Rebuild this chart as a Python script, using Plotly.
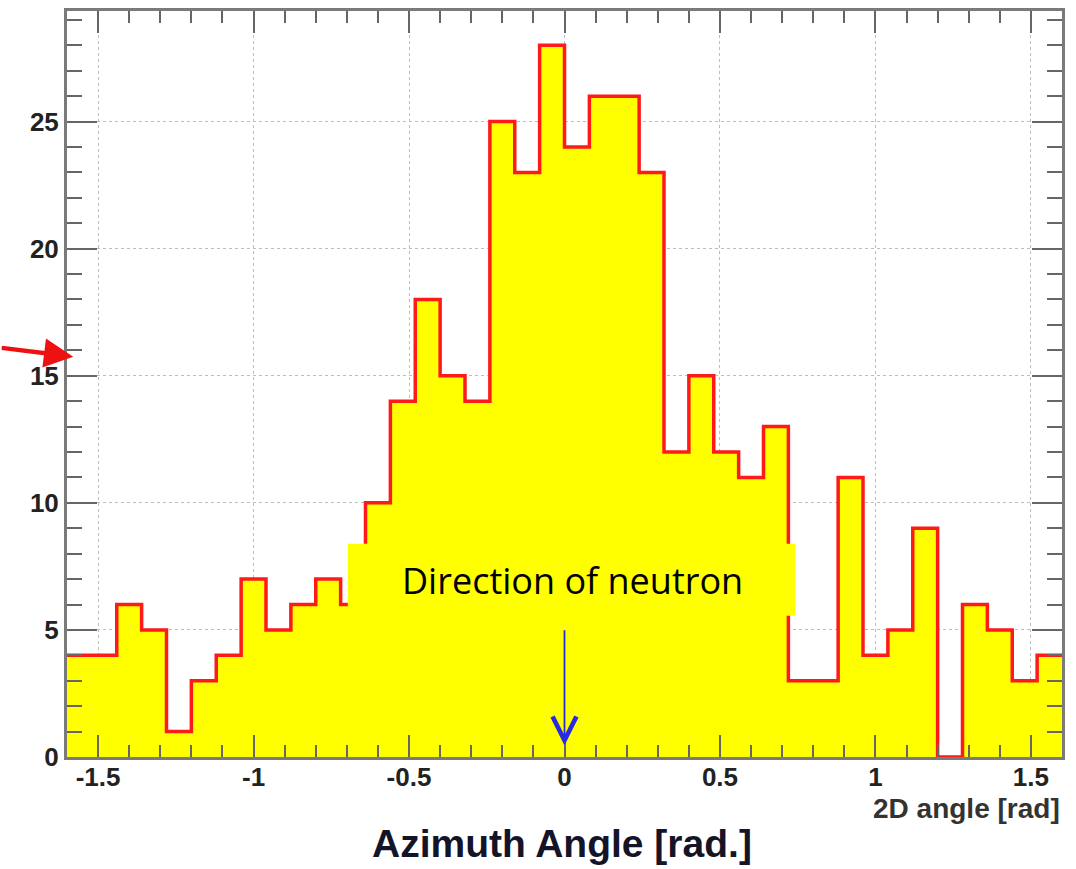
import numpy as np
import plotly.graph_objects as go

# Histogram data: 40 bins from -1.6 to 1.6 rad
x_min, x_max, n_bins = -1.6, 1.6, 40
counts = [4, 4, 6, 5, 1, 3, 4, 7, 5, 6,
          7, 6, 10, 14, 18, 15, 14, 25, 23, 28,
          24, 26, 26, 23, 12, 15, 12, 11, 13, 3,
          3, 11, 4, 5, 9, 0, 6, 5, 3, 4]
x_tickvals = [-1.5, -1, -0.5, 0, 0.5, 1, 1.5]
x_ticktext = ["-1.5", "-1", "-0.5", "0", "0.5", "1", "1.5"]
y_tickvals = [0, 5, 10, 15, 20, 25]
y_ticktext = ["0", "5", "10", "15", "20", "25"]

edges = np.linspace(x_min, x_max, n_bins + 1)
step_x = list(edges)
step_y = list(counts) + [counts[-1]]

fig = go.Figure()
fig.add_trace(go.Scatter(
    x=step_x, y=step_y, mode="lines", line_shape="hv",
    line=dict(color="#ff1a1a", width=3.5),
    fill="tozeroy", fillcolor="#ffff00",
    hoverinfo="skip", showlegend=False))

axis_common = dict(
    showline=True, linecolor="#7a7a7a", linewidth=3, mirror="ticks",
    ticks="inside", tickcolor="#666666", tickwidth=2,
    showgrid=True, gridcolor="#bdbdbd", gridwidth=1, griddash="dot",
    zeroline=False,
    tickfont=dict(family="Liberation Sans", size=26, color="#222222", weight="bold"),
)

fig.update_xaxes(
    range=[x_min, x_max], tickvals=x_tickvals, ticktext=x_ticktext,
    ticklen=22, ticklabelstandoff=-5,
    minor=dict(dtick=0.1, tick0=0, ticklen=12, ticks="inside",
               tickcolor="#666666", tickwidth=2, showgrid=False),
    **axis_common)
fig.update_yaxes(
    range=[0, 29.35], tickvals=y_tickvals, ticktext=y_ticktext,
    ticklen=30,
    minor=dict(dtick=1, tick0=0, ticklen=15, ticks="inside",
               tickcolor="#666666", tickwidth=2, showgrid=False),
    **axis_common)

# Yellow label box
fig.add_shape(type="rect", xref="x", yref="y", x0=-0.697, x1=0.742, y0=5.56, y1=8.39,
              fillcolor="#ffff00", line=dict(width=0), layer="above")

annotations = [
    dict(text="Direction of neutron", xref="x", yref="y", x=0.026, y=6.95,
         showarrow=False, font=dict(family="Open Sans", size=36, color="#000000")),
    # blue arrow pointing at 0
    dict(text="", xref="x", yref="y", x=0, y=0.45, axref="x", ayref="y",
         ax=0, ay=5.05, showarrow=True, arrowhead=5, arrowsize=2.6,
         arrowwidth=1.8, arrowcolor="#2a2ae0"),
    # red arrow on the left
    dict(text="", xref="x", yref="y", x=-1.58, y=15.75, ax=-73, ay=-9,
         showarrow=True, arrowhead=2, arrowsize=1.3, arrowwidth=4.5,
         arrowcolor="#ee1111"),
    dict(text="2D angle [rad]", xref="paper", yref="paper", x=1.0, y=-0.046,
         xanchor="right", yanchor="top", showarrow=False,
         font=dict(family="Liberation Sans", size=28, color="#333333", weight="bold")),
    dict(text="Azimuth Angle [rad.]", xref="paper", yref="paper", x=0.497, y=-0.084,
         xanchor="center", yanchor="top", showarrow=False,
         font=dict(family="Liberation Sans", size=39, color="#141428", weight="bold")),
]
fig.update_layout(
    width=1076, height=869,
    margin=dict(l=67, r=14, t=8, b=112),
    paper_bgcolor="white", plot_bgcolor="white",
    annotations=annotations, showlegend=False,
)
fig.write_html("out.html")
